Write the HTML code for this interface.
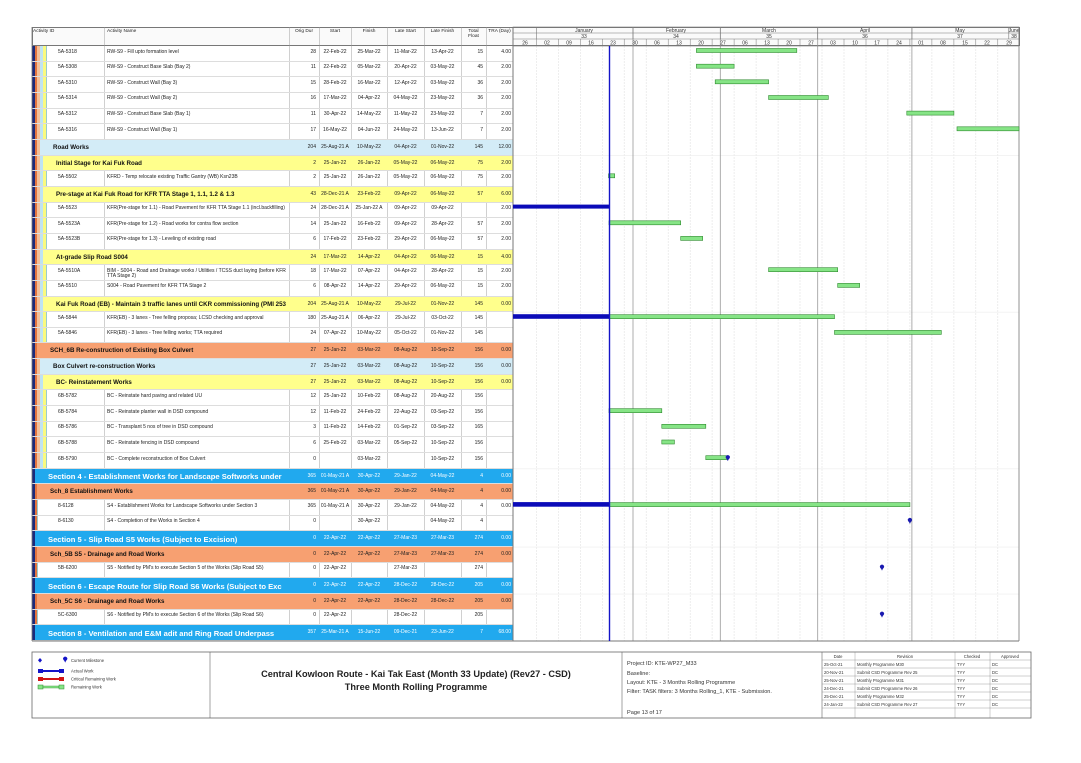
<!DOCTYPE html>
<html><head><meta charset="utf-8">
<style>
*{margin:0;padding:0;box-sizing:border-box}
body{width:1081px;height:763px;background:#fff;position:relative;overflow:hidden;font-family:"Liberation Sans",Arial,sans-serif;color:#222}
#tbl{position:absolute;left:32px;top:46px;width:481px}
.r{position:relative;height:15.66px;border-bottom:1px solid #ddd}
.bg{position:absolute;top:0;bottom:0;right:0}
.w{background:transparent;border-left:1px solid #9cc}
.lb{background:#d3ecf7}
.y{background:#ffff8c}
.o{background:#f7a071}
.sb{background:#21a9ee}
.t{position:absolute;top:3.5px;font-size:5px;line-height:5.6px;white-space:nowrap}
.id{left:26px}.nm{left:75px;width:180px;white-space:normal}
.d{left:257px;width:27px;text-align:right}
.s{left:287px;width:32px;text-align:center}
.f{left:319px;width:36px;text-align:center}
.ls{left:355px;width:37px;text-align:center}
.lf{left:392px;width:37px;text-align:center}
.tf{left:429px;width:22px;text-align:right}
.tr{left:454px;width:25px;text-align:right}
.g .t{top:5px}
.gn{position:absolute;top:4px;font-size:6.2px;font-weight:bold;white-space:nowrap;overflow:hidden;width:240px;color:#111}
.sec .t{color:#fff;top:5px}
.sec .gn{font-size:7.6px;color:#fff;top:3.5px;width:250px}
.vl{position:absolute;top:27px;height:614px;width:0;border-left:1px solid rgba(150,150,150,.45)}
.hd{position:absolute;top:27px;height:19px;font-size:4.8px;text-align:center;line-height:5px;padding-top:2px;color:#222}
.S3{background:linear-gradient(90deg,#1b2a7a 0 3px,#e2743f 3px 5px,#f3c09a 5px 8px,#bfe3f2 8px 11px,#fafa7e 11px 14px,transparent 14px)}
.S8{background:linear-gradient(90deg,#1b2a7a 0 3px,#e2743f 3px 5px,transparent 5px)}
.S0{background:linear-gradient(90deg,#1b2a7a 0 3px,transparent 3px)}
</style></head><body>

<!-- header -->
<div style="position:absolute;left:32px;top:27px;width:988px;height:19px;border:1px solid #777;background:#fafafa"></div>
<div class="hd" style="left:33px;text-align:left">Activity ID</div>
<div class="hd" style="left:107px;text-align:left">Activity Name</div>
<div class="hd" style="left:289px;width:30px">Orig Dur</div>
<div class="hd" style="left:319px;width:32px">Start</div>
<div class="hd" style="left:351px;width:36px">Finish</div>
<div class="hd" style="left:387px;width:37px">Late Start</div>
<div class="hd" style="left:424px;width:37px">Late Finish</div>
<div class="hd" style="left:461px;width:25px">Total<br>Float</div>
<div class="hd" style="left:486px;width:27px">TRA (Day)</div>

<div class="vl" style="left:104px"></div><div class="vl" style="left:289px"></div><div class="vl" style="left:319px"></div><div class="vl" style="left:351px"></div><div class="vl" style="left:387px"></div><div class="vl" style="left:424px"></div><div class="vl" style="left:461px"></div><div class="vl" style="left:486px"></div>

<div id="tbl">
<div class="r S3"><div class="bg w" style="left:14px"></div><span class="t id">5A-5318</span><span class="t nm">RW-S9 - Fill upto formation level</span><span class="t d">28</span><span class="t s">22-Feb-22</span><span class="t f">25-Mar-22</span><span class="t ls">11-Mar-22</span><span class="t lf">13-Apr-22</span><span class="t tf">15</span><span class="t tr">4.00</span></div>
<div class="r S3"><div class="bg w" style="left:14px"></div><span class="t id">5A-5308</span><span class="t nm">RW-S9 - Construct Base Slab (Bay 2)</span><span class="t d">11</span><span class="t s">22-Feb-22</span><span class="t f">05-Mar-22</span><span class="t ls">20-Apr-22</span><span class="t lf">03-May-22</span><span class="t tf">45</span><span class="t tr">2.00</span></div>
<div class="r S3"><div class="bg w" style="left:14px"></div><span class="t id">5A-5310</span><span class="t nm">RW-S9 - Construct Wall (Bay 3)</span><span class="t d">15</span><span class="t s">28-Feb-22</span><span class="t f">16-Mar-22</span><span class="t ls">12-Apr-22</span><span class="t lf">03-May-22</span><span class="t tf">36</span><span class="t tr">2.00</span></div>
<div class="r S3"><div class="bg w" style="left:14px"></div><span class="t id">5A-5314</span><span class="t nm">RW-S9 - Construct Wall (Bay 2)</span><span class="t d">16</span><span class="t s">17-Mar-22</span><span class="t f">04-Apr-22</span><span class="t ls">04-May-22</span><span class="t lf">23-May-22</span><span class="t tf">36</span><span class="t tr">2.00</span></div>
<div class="r S3"><div class="bg w" style="left:14px"></div><span class="t id">5A-5312</span><span class="t nm">RW-S9 - Construct Base Slab (Bay 1)</span><span class="t d">11</span><span class="t s">30-Apr-22</span><span class="t f">14-May-22</span><span class="t ls">11-May-22</span><span class="t lf">23-May-22</span><span class="t tf">7</span><span class="t tr">2.00</span></div>
<div class="r S3"><div class="bg w" style="left:14px"></div><span class="t id">5A-5316</span><span class="t nm">RW-S9 - Construct Wall (Bay 1)</span><span class="t d">17</span><span class="t s">16-May-22</span><span class="t f">04-Jun-22</span><span class="t ls">24-May-22</span><span class="t lf">13-Jun-22</span><span class="t tf">7</span><span class="t tr">2.00</span></div>
<div class="r g S3"><div class="bg lb" style="left:8px"></div><span class="gn" style="left:21px">Road Works</span><span class="t d">204</span><span class="t s">25-Aug-21 A</span><span class="t f">10-May-22</span><span class="t ls">04-Apr-22</span><span class="t lf">01-Nov-22</span><span class="t tf">145</span><span class="t tr">12.00</span></div>
<div class="r g S3"><div class="bg y" style="left:11px"></div><span class="gn" style="left:24px">Initial Stage for Kai Fuk Road</span><span class="t d">2</span><span class="t s">25-Jan-22</span><span class="t f">26-Jan-22</span><span class="t ls">05-May-22</span><span class="t lf">06-May-22</span><span class="t tf">75</span><span class="t tr">2.00</span></div>
<div class="r S3"><div class="bg w" style="left:14px"></div><span class="t id">5A-5502</span><span class="t nm">KFRD - Temp relocate existing Traffic Gantry (WB) Ksn23B</span><span class="t d">2</span><span class="t s">25-Jan-22</span><span class="t f">26-Jan-22</span><span class="t ls">05-May-22</span><span class="t lf">06-May-22</span><span class="t tf">75</span><span class="t tr">2.00</span></div>
<div class="r g S3"><div class="bg y" style="left:11px"></div><span class="gn" style="left:24px">Pre-stage at Kai Fuk Road for KFR TTA Stage 1, 1.1, 1.2 &amp; 1.3</span><span class="t d">43</span><span class="t s">28-Dec-21 A</span><span class="t f">23-Feb-22</span><span class="t ls">09-Apr-22</span><span class="t lf">06-May-22</span><span class="t tf">57</span><span class="t tr">6.00</span></div>
<div class="r S3"><div class="bg w" style="left:14px"></div><span class="t id">5A-5523</span><span class="t nm">KFR(Pre-stage for 1.1) - Road Pavement for KFR TTA Stage 1.1 (incl.backfilling)</span><span class="t d">24</span><span class="t s">28-Dec-21 A</span><span class="t f">25-Jan-22 A</span><span class="t ls">09-Apr-22</span><span class="t lf">09-Apr-22</span><span class="t tf"></span><span class="t tr">2.00</span></div>
<div class="r S3"><div class="bg w" style="left:14px"></div><span class="t id">5A-5523A</span><span class="t nm">KFR(Pre-stage for 1.2) - Road works for contra flow section</span><span class="t d">14</span><span class="t s">25-Jan-22</span><span class="t f">16-Feb-22</span><span class="t ls">09-Apr-22</span><span class="t lf">28-Apr-22</span><span class="t tf">57</span><span class="t tr">2.00</span></div>
<div class="r S3"><div class="bg w" style="left:14px"></div><span class="t id">5A-5523B</span><span class="t nm">KFR(Pre-stage for 1.3) - Leveling of existing road</span><span class="t d">6</span><span class="t s">17-Feb-22</span><span class="t f">23-Feb-22</span><span class="t ls">29-Apr-22</span><span class="t lf">06-May-22</span><span class="t tf">57</span><span class="t tr">2.00</span></div>
<div class="r g S3"><div class="bg y" style="left:11px"></div><span class="gn" style="left:24px">At-grade Slip Road S004</span><span class="t d">24</span><span class="t s">17-Mar-22</span><span class="t f">14-Apr-22</span><span class="t ls">04-Apr-22</span><span class="t lf">06-May-22</span><span class="t tf">15</span><span class="t tr">4.00</span></div>
<div class="r S3"><div class="bg w" style="left:14px"></div><span class="t id">5A-5510A</span><span class="t nm">BIM - S004 - Road and Drainage works / Utilities / TCSS duct laying (before KFR TTA Stage 2)</span><span class="t d">18</span><span class="t s">17-Mar-22</span><span class="t f">07-Apr-22</span><span class="t ls">04-Apr-22</span><span class="t lf">28-Apr-22</span><span class="t tf">15</span><span class="t tr">2.00</span></div>
<div class="r S3"><div class="bg w" style="left:14px"></div><span class="t id">5A-5510</span><span class="t nm">S004 - Road Pavement for KFR TTA Stage 2</span><span class="t d">6</span><span class="t s">08-Apr-22</span><span class="t f">14-Apr-22</span><span class="t ls">29-Apr-22</span><span class="t lf">06-May-22</span><span class="t tf">15</span><span class="t tr">2.00</span></div>
<div class="r g S3"><div class="bg y" style="left:11px"></div><span class="gn" style="left:24px;width:233px">Kai Fuk Road (EB) - Maintain 3 traffic lanes until CKR commissioning (PMI 253</span><span class="t d">204</span><span class="t s">25-Aug-21 A</span><span class="t f">10-May-22</span><span class="t ls">29-Jul-22</span><span class="t lf">01-Nov-22</span><span class="t tf">145</span><span class="t tr">0.00</span></div>
<div class="r S3"><div class="bg w" style="left:14px"></div><span class="t id">5A-5844</span><span class="t nm">KFR(EB) - 3 lanes - Tree felling proposa; LCSD checking and approval</span><span class="t d">180</span><span class="t s">25-Aug-21 A</span><span class="t f">06-Apr-22</span><span class="t ls">29-Jul-22</span><span class="t lf">03-Oct-22</span><span class="t tf">145</span><span class="t tr"></span></div>
<div class="r S3"><div class="bg w" style="left:14px"></div><span class="t id">5A-5846</span><span class="t nm">KFR(EB) - 3 lanes - Tree felling works; TTA required</span><span class="t d">24</span><span class="t s">07-Apr-22</span><span class="t f">10-May-22</span><span class="t ls">05-Oct-22</span><span class="t lf">01-Nov-22</span><span class="t tf">145</span><span class="t tr"></span></div>
<div class="r g S3"><div class="bg o" style="left:5px"></div><span class="gn" style="left:18px">SCH_6B Re-construction of Existing Box Culvert</span><span class="t d">27</span><span class="t s">25-Jan-22</span><span class="t f">03-Mar-22</span><span class="t ls">08-Aug-22</span><span class="t lf">10-Sep-22</span><span class="t tf">156</span><span class="t tr">0.00</span></div>
<div class="r g S3"><div class="bg lb" style="left:8px"></div><span class="gn" style="left:21px">Box Culvert re-construction Works</span><span class="t d">27</span><span class="t s">25-Jan-22</span><span class="t f">03-Mar-22</span><span class="t ls">08-Aug-22</span><span class="t lf">10-Sep-22</span><span class="t tf">156</span><span class="t tr">0.00</span></div>
<div class="r g S3"><div class="bg y" style="left:11px"></div><span class="gn" style="left:24px">BC- Reinstatement Works</span><span class="t d">27</span><span class="t s">25-Jan-22</span><span class="t f">03-Mar-22</span><span class="t ls">08-Aug-22</span><span class="t lf">10-Sep-22</span><span class="t tf">156</span><span class="t tr">0.00</span></div>
<div class="r S3"><div class="bg w" style="left:14px"></div><span class="t id">6B-5782</span><span class="t nm">BC - Reinstate hard paving and related UU</span><span class="t d">12</span><span class="t s">25-Jan-22</span><span class="t f">10-Feb-22</span><span class="t ls">08-Aug-22</span><span class="t lf">20-Aug-22</span><span class="t tf">156</span></div>
<div class="r S3"><div class="bg w" style="left:14px"></div><span class="t id">6B-5784</span><span class="t nm">BC - Reinstate planter wall in DSD compound</span><span class="t d">12</span><span class="t s">11-Feb-22</span><span class="t f">24-Feb-22</span><span class="t ls">22-Aug-22</span><span class="t lf">03-Sep-22</span><span class="t tf">156</span></div>
<div class="r S3"><div class="bg w" style="left:14px"></div><span class="t id">6B-5786</span><span class="t nm">BC - Transplant 5 nos of tree in DSD compound</span><span class="t d">3</span><span class="t s">11-Feb-22</span><span class="t f">14-Feb-22</span><span class="t ls">01-Sep-22</span><span class="t lf">03-Sep-22</span><span class="t tf">165</span></div>
<div class="r S3"><div class="bg w" style="left:14px"></div><span class="t id">6B-5788</span><span class="t nm">BC - Reinstate fencing in DSD compound</span><span class="t d">6</span><span class="t s">25-Feb-22</span><span class="t f">03-Mar-22</span><span class="t ls">05-Sep-22</span><span class="t lf">10-Sep-22</span><span class="t tf">156</span></div>
<div class="r S3"><div class="bg w" style="left:14px"></div><span class="t id">6B-5790</span><span class="t nm">BC - Complete reconstruction of Box Culvert</span><span class="t d">0</span><span class="t f">03-Mar-22</span><span class="t lf">10-Sep-22</span><span class="t tf">156</span></div>
<div class="r g sec S0"><div class="bg sb" style="left:3px"></div><span class="gn" style="left:16px">Section 4 - Establishment Works for Landscape Softworks under</span><span class="t d">365</span><span class="t s">01-May-21 A</span><span class="t f">30-Apr-22</span><span class="t ls">29-Jan-22</span><span class="t lf">04-May-22</span><span class="t tf">4</span><span class="t tr">0.00</span></div>
<div class="r g S8"><div class="bg o" style="left:5px"></div><span class="gn" style="left:18px">Sch_8 Establishment Works</span><span class="t d">365</span><span class="t s">01-May-21 A</span><span class="t f">30-Apr-22</span><span class="t ls">29-Jan-22</span><span class="t lf">04-May-22</span><span class="t tf">4</span><span class="t tr">0.00</span></div>
<div class="r S8"><div class="bg w" style="left:5px"></div><span class="t id">8-6128</span><span class="t nm">S4 - Establishment Works for Landscape Softworks under Section 3</span><span class="t d">365</span><span class="t s">01-May-21 A</span><span class="t f">30-Apr-22</span><span class="t ls">29-Jan-22</span><span class="t lf">04-May-22</span><span class="t tf">4</span><span class="t tr">0.00</span></div>
<div class="r S8"><div class="bg w" style="left:5px"></div><span class="t id">8-6130</span><span class="t nm">S4 - Completion of the Works in Section 4</span><span class="t d">0</span><span class="t f">30-Apr-22</span><span class="t lf">04-May-22</span><span class="t tf">4</span></div>
<div class="r g sec S0"><div class="bg sb" style="left:3px"></div><span class="gn" style="left:16px">Section 5 - Slip Road S5 Works (Subject to Excision)</span><span class="t d">0</span><span class="t s">22-Apr-22</span><span class="t f">22-Apr-22</span><span class="t ls">27-Mar-23</span><span class="t lf">27-Mar-23</span><span class="t tf">274</span><span class="t tr">0.00</span></div>
<div class="r g S8"><div class="bg o" style="left:5px"></div><span class="gn" style="left:18px">Sch_5B S5 - Drainage and Road Works</span><span class="t d">0</span><span class="t s">22-Apr-22</span><span class="t f">22-Apr-22</span><span class="t ls">27-Mar-23</span><span class="t lf">27-Mar-23</span><span class="t tf">274</span><span class="t tr">0.00</span></div>
<div class="r S8"><div class="bg w" style="left:5px"></div><span class="t id">5B-6200</span><span class="t nm">S5 - Notified by PM's to execute Section 5 of the Works (Slip Road S5)</span><span class="t d">0</span><span class="t s">22-Apr-22</span><span class="t ls">27-Mar-23</span><span class="t tf">274</span></div>
<div class="r g sec S0"><div class="bg sb" style="left:3px"></div><span class="gn" style="left:16px">Section 6 - Escape Route for Slip Road S6 Works (Subject to Exc</span><span class="t d">0</span><span class="t s">22-Apr-22</span><span class="t f">22-Apr-22</span><span class="t ls">28-Dec-22</span><span class="t lf">28-Dec-22</span><span class="t tf">205</span><span class="t tr">0.00</span></div>
<div class="r g S8"><div class="bg o" style="left:5px"></div><span class="gn" style="left:18px">Sch_5C S6 - Drainage and Road Works</span><span class="t d">0</span><span class="t s">22-Apr-22</span><span class="t f">22-Apr-22</span><span class="t ls">28-Dec-22</span><span class="t lf">28-Dec-22</span><span class="t tf">205</span><span class="t tr">0.00</span></div>
<div class="r S8"><div class="bg w" style="left:5px"></div><span class="t id">5C-6300</span><span class="t nm">S6 - Notified by PM's to execute Section 6 of the Works (Slip Road S6)</span><span class="t d">0</span><span class="t s">22-Apr-22</span><span class="t ls">28-Dec-22</span><span class="t tf">205</span></div>
<div class="r g sec S0"><div class="bg sb" style="left:3px"></div><span class="gn" style="left:16px">Section 8 - Ventilation and E&amp;M adit and Ring Road Underpass</span><span class="t d">357</span><span class="t s">25-Mar-21 A</span><span class="t f">15-Jun-22</span><span class="t ls">09-Dec-21</span><span class="t lf">23-Jun-22</span><span class="t tf">7</span><span class="t tr">68.00</span></div>
</div>

<svg width="1081" height="763" style="position:absolute;left:0;top:0" xmlns="http://www.w3.org/2000/svg" font-family="Liberation Sans, Arial, sans-serif">
<rect x="513" y="46" width="506" height="595" fill="#fff"/>
<g stroke="#e2e2e2" stroke-width="0.6" stroke-dasharray="2,1">
<line x1="536.3" y1="46" x2="536.3" y2="641"/><line x1="558.3" y1="46" x2="558.3" y2="641"/><line x1="580.3" y1="46" x2="580.3" y2="641"/><line x1="602.3" y1="46" x2="602.3" y2="641"/><line x1="624.2" y1="46" x2="624.2" y2="641"/><line x1="646.2" y1="46" x2="646.2" y2="641"/><line x1="668.2" y1="46" x2="668.2" y2="641"/><line x1="690.2" y1="46" x2="690.2" y2="641"/><line x1="712.1" y1="46" x2="712.1" y2="641"/><line x1="734.1" y1="46" x2="734.1" y2="641"/><line x1="756.1" y1="46" x2="756.1" y2="641"/><line x1="778.1" y1="46" x2="778.1" y2="641"/><line x1="800" y1="46" x2="800" y2="641"/><line x1="822" y1="46" x2="822" y2="641"/><line x1="844" y1="46" x2="844" y2="641"/><line x1="866" y1="46" x2="866" y2="641"/><line x1="887.9" y1="46" x2="887.9" y2="641"/><line x1="909.9" y1="46" x2="909.9" y2="641"/><line x1="931.9" y1="46" x2="931.9" y2="641"/><line x1="953.9" y1="46" x2="953.9" y2="641"/><line x1="975.8" y1="46" x2="975.8" y2="641"/><line x1="997.8" y1="46" x2="997.8" y2="641"/>
</g>
<g stroke="#ececec" stroke-width="0.6">
<line x1="513" y1="155.6" x2="1019" y2="155.6"/><line x1="513" y1="312.2" x2="1019" y2="312.2"/><line x1="513" y1="468.8" x2="1019" y2="468.8"/><line x1="513" y1="547.1" x2="1019" y2="547.1"/><line x1="513" y1="594.1" x2="1019" y2="594.1"/>
</g>
<g stroke="#999" stroke-width="0.8">
<line x1="633" y1="27" x2="633" y2="641"/><line x1="720.3" y1="27" x2="720.3" y2="641"/><line x1="817.7" y1="27" x2="817.7" y2="641"/><line x1="911.9" y1="27" x2="911.9" y2="641"/><line x1="1008.8" y1="27" x2="1008.8" y2="33"/>
</g>
<g stroke="#777" stroke-width="0.6" fill="none">
<rect x="513" y="27" width="506" height="19"/>
<line x1="513" y1="33" x2="1019" y2="33"/><line x1="513" y1="39" x2="1019" y2="39"/>
<line x1="536.3" y1="27" x2="536.3" y2="39"/><line x1="1008.8" y1="27" x2="1008.8" y2="39"/>
<line x1="633" y1="27" x2="633" y2="39"/><line x1="720.3" y1="27" x2="720.3" y2="39"/><line x1="817.7" y1="27" x2="817.7" y2="39"/><line x1="911.9" y1="27" x2="911.9" y2="39"/>
</g>
<g stroke="#777" stroke-width="0.5">
<line x1="536.3" y1="39" x2="536.3" y2="46"/><line x1="558.3" y1="39" x2="558.3" y2="46"/><line x1="580.3" y1="39" x2="580.3" y2="46"/><line x1="602.3" y1="39" x2="602.3" y2="46"/><line x1="624.2" y1="39" x2="624.2" y2="46"/><line x1="646.2" y1="39" x2="646.2" y2="46"/><line x1="668.2" y1="39" x2="668.2" y2="46"/><line x1="690.2" y1="39" x2="690.2" y2="46"/><line x1="712.1" y1="39" x2="712.1" y2="46"/><line x1="734.1" y1="39" x2="734.1" y2="46"/><line x1="756.1" y1="39" x2="756.1" y2="46"/><line x1="778.1" y1="39" x2="778.1" y2="46"/><line x1="800" y1="39" x2="800" y2="46"/><line x1="822" y1="39" x2="822" y2="46"/><line x1="844" y1="39" x2="844" y2="46"/><line x1="866" y1="39" x2="866" y2="46"/><line x1="887.9" y1="39" x2="887.9" y2="46"/><line x1="909.9" y1="39" x2="909.9" y2="46"/><line x1="931.9" y1="39" x2="931.9" y2="46"/><line x1="953.9" y1="39" x2="953.9" y2="46"/><line x1="975.8" y1="39" x2="975.8" y2="46"/><line x1="997.8" y1="39" x2="997.8" y2="46"/>
</g>
<g font-size="5" fill="#333" text-anchor="middle">
<text x="584" y="32">January</text><text x="676" y="32">February</text><text x="769" y="32">March</text><text x="865" y="32">April</text><text x="960" y="32">May</text><text x="1014" y="32">June</text>
<text x="584" y="38">33</text><text x="676" y="38">34</text><text x="769" y="38">35</text><text x="865" y="38">36</text><text x="960" y="38">37</text><text x="1014" y="38">38</text>
<text x="525" y="44.5">26</text><text x="547" y="44.5">02</text><text x="569" y="44.5">09</text><text x="591" y="44.5">16</text><text x="613" y="44.5">23</text><text x="635" y="44.5">30</text><text x="657" y="44.5">06</text><text x="679" y="44.5">13</text><text x="701" y="44.5">20</text><text x="723" y="44.5">27</text><text x="745" y="44.5">06</text><text x="767" y="44.5">13</text><text x="789" y="44.5">20</text><text x="811" y="44.5">27</text><text x="833" y="44.5">03</text><text x="855" y="44.5">10</text><text x="877" y="44.5">17</text><text x="899" y="44.5">24</text><text x="921" y="44.5">01</text><text x="943" y="44.5">08</text><text x="965" y="44.5">15</text><text x="987" y="44.5">22</text><text x="1009" y="44.5">29</text>
</g>
<line x1="1019" y1="27" x2="1019" y2="641" stroke="#777" stroke-width="0.8"/>
<line x1="513" y1="27" x2="513" y2="641" stroke="#777" stroke-width="1"/>
<line x1="32" y1="641" x2="1019" y2="641" stroke="#777" stroke-width="1"/>
<line x1="32" y1="27" x2="32" y2="641" stroke="#777" stroke-width="0.8"/>
<g fill="#86e486" stroke="#2f8a2f" stroke-width="0.6">
<rect x="696.4" y="48.5" width="100.4" height="4"/>
<rect x="696.4" y="64.2" width="37.7" height="4"/>
<rect x="715.2" y="79.8" width="53.4" height="4"/>
<rect x="768.6" y="95.5" width="59.7" height="4"/>
<rect x="906.8" y="111.1" width="47.1" height="4"/>
<rect x="957" y="126.8" width="62" height="4"/>
<rect x="608.5" y="173.8" width="6.2" height="4"/>
<rect x="609" y="220.8" width="71.7" height="4"/>
<rect x="680.7" y="236.4" width="22" height="4"/>
<rect x="768.6" y="267.7" width="69.1" height="4"/>
<rect x="837.7" y="283.4" width="22" height="4"/>
<rect x="609" y="314.7" width="225.5" height="4"/>
<rect x="834.5" y="330.4" width="106.8" height="4"/>
<rect x="609" y="408.7" width="52.8" height="4"/>
<rect x="661.8" y="424.3" width="44" height="4"/>
<rect x="661.8" y="440" width="12.6" height="4"/>
<rect x="705.8" y="455.7" width="22" height="4"/>
<rect x="609" y="502.6" width="300.9" height="4"/>
</g>
<g fill="#0b0bb8">
<rect x="513" y="204.6" width="96" height="4"/>
<rect x="513" y="314.2" width="96" height="4.6"/>
<rect x="513" y="502.1" width="96" height="4.6"/>
</g>
<g fill="#1a1ab0">
<path d="M725.6 456.5h4.4l-2.2 4.6z"/><circle cx="727.8" cy="457.2" r="2.1"/>
<path d="M907.7 519.3h4.4l-2.2 4.6z"/><circle cx="909.9" cy="520" r="2.1"/>
<path d="M879.8 566h4.4l-2.2 4.6z"/><circle cx="882" cy="566.7" r="2.1"/>
<path d="M879.8 613h4.4l-2.2 4.6z"/><circle cx="882" cy="613.7" r="2.1"/>
</g>
<line x1="609.5" y1="46" x2="609.5" y2="641" stroke="#1414c8" stroke-width="1.4"/>

<rect x="32" y="652" width="999" height="66" fill="none" stroke="#666" stroke-width="0.8"/>
<line x1="210" y1="652" x2="210" y2="718" stroke="#666" stroke-width="0.6"/>
<line x1="622" y1="652" x2="622" y2="718" stroke="#666" stroke-width="0.6"/>
<line x1="822" y1="652" x2="822" y2="718" stroke="#666" stroke-width="0.6"/>
<g stroke="#888" stroke-width="0.4">
<line x1="822" y1="660" x2="1031" y2="660"/><line x1="822" y1="668" x2="1031" y2="668"/><line x1="822" y1="676" x2="1031" y2="676"/><line x1="822" y1="684" x2="1031" y2="684"/><line x1="822" y1="692" x2="1031" y2="692"/><line x1="822" y1="700" x2="1031" y2="700"/><line x1="822" y1="708" x2="1031" y2="708"/>
<line x1="855" y1="652" x2="855" y2="718"/><line x1="955" y1="652" x2="955" y2="718"/><line x1="990" y1="652" x2="990" y2="718"/>
</g>
<g font-size="4.2" fill="#333">
<text x="838" y="658" text-anchor="middle">Date</text><text x="905" y="658" text-anchor="middle">Revision</text><text x="972" y="658" text-anchor="middle">Checked</text><text x="1010" y="658" text-anchor="middle">Approved</text>
<text x="824" y="666">25-Oct-21</text><text x="857" y="666">Monthly Programme M30</text><text x="957" y="666">TYY</text><text x="992" y="666">DC</text>
<text x="824" y="674">20-Nov-21</text><text x="857" y="674">Submit CSD Programme Rev 25</text><text x="957" y="674">TYY</text><text x="992" y="674">DC</text>
<text x="824" y="682">25-Nov-21</text><text x="857" y="682">Monthly Programme M31</text><text x="957" y="682">TYY</text><text x="992" y="682">DC</text>
<text x="824" y="690">24-Dec-21</text><text x="857" y="690">Submit CSD Programme Rev 26</text><text x="957" y="690">TYY</text><text x="992" y="690">DC</text>
<text x="824" y="698">25-Dec-21</text><text x="857" y="698">Monthly Programme M32</text><text x="957" y="698">TYY</text><text x="992" y="698">DC</text>
<text x="824" y="706">24-Jan-22</text><text x="857" y="706">Submit CSD Programme Rev 27</text><text x="957" y="706">TYY</text><text x="992" y="706">DC</text>
</g>
<g font-size="5.6" fill="#333">
<text x="627" y="665">Project ID: KTE-WP27_M33</text>
<text x="627" y="675">Baseline:</text>
<text x="627" y="684">Layout: KTE - 3 Months Rolling Programme</text>
<text x="627" y="693">Filter: TASK filters: 3 Months Rolling_1, KTE - Submission.</text>
<text x="627" y="714">Page 13 of 17</text>
</g>
<g font-size="9.2" font-weight="bold" fill="#222" text-anchor="middle">
<text x="416" y="677">Central Kowloon Route - Kai Tak East (Month 33 Update) (Rev27 - CSD)</text>
<text x="416" y="690">Three Month Rolling Programme</text>
</g>
<path d="M40 658l2 2.3-2 2.3-2-2.3z" fill="#1414c8"/>
<path d="M63 658h4.4l-2.2 4.6z" fill="#1414c8"/><circle cx="65.2" cy="658.7" r="2.1" fill="#1414c8"/>
<rect x="38" y="669" width="5" height="4" fill="#1414c8"/><rect x="43" y="670" width="16" height="2" fill="#1414c8"/><rect x="59" y="669" width="5" height="4" fill="#1414c8"/>
<rect x="38" y="677" width="5" height="4" fill="#d21414"/><rect x="43" y="678" width="16" height="2" fill="#d21414"/><rect x="59" y="677" width="5" height="4" fill="#d21414"/>
<rect x="38" y="685" width="5" height="4" fill="#86e486" stroke="#2f8a2f" stroke-width="0.5"/><rect x="43" y="686" width="16" height="2" fill="#86e486" stroke="#2f8a2f" stroke-width="0.4"/><rect x="59" y="685" width="5" height="4" fill="#86e486" stroke="#2f8a2f" stroke-width="0.5"/>
<g font-size="4.2" fill="#333">
<text x="71" y="662">Current Milestone</text><text x="71" y="672.5">Actual Work</text><text x="71" y="680.5">Critical Remaining Work</text><text x="71" y="688.5">Remaining Work</text>
</g>
</svg>
</body></html>
